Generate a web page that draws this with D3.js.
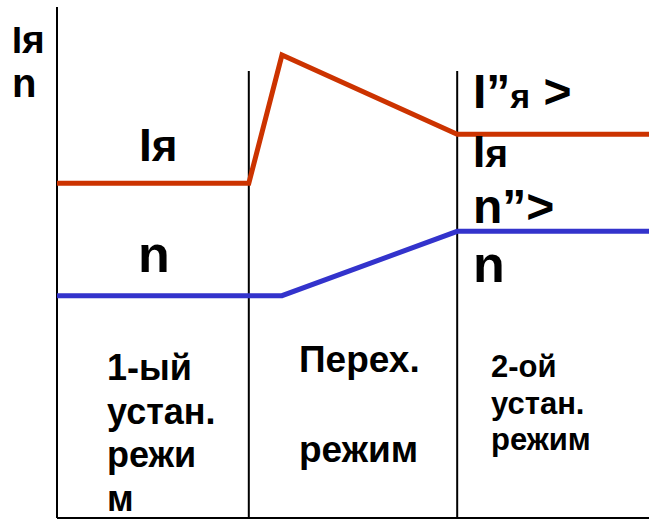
<!DOCTYPE html>
<html>
<head>
<meta charset="utf-8">
<script src="https://cdn.jsdelivr.net/npm/d3@7"></script>
<style>
  html, body { margin: 0; padding: 0; background: #fff; }
  svg text { font-family: "Liberation Sans", Arial, sans-serif; font-weight: bold; fill: #000; }
</style>
</head>
<body>
<svg id="chart" width="652" height="519"></svg>
<script>
// ---- data (abstract time 0..100, abstract level 0..100) ----
const regimeBoundaries = [32.4, 67.6];          // borders between regimes
const boundaryTop = 87.5;                         // height of the border lines
const armatureTime = [0, 32.4, 38, 67.6, 100];    // Iя (red)
const armatureCurrent = [65.5, 65.5, 90.6, 75.1, 75.1];
const speedTime = [0, 38, 67.6, 100];             // n (blue)
const speedValue = [43.5, 43.5, 56.1, 56.1];
const regimeLabels = [
  ["1-ый", "устан.", "режи", "м"],
  ["Перех.", "", "режим"],
  ["2-ой", "устан.", "режим"]
];

const svg = d3.select("#chart");
const x = d3.scaleLinear().domain([0, 100]).range([57, 649]);
const y = d3.scaleLinear().domain([0, 100]).range([518, 7]);

// axes
svg.append("line").attr("x1", x(0)).attr("x2", x(0)).attr("y1", y(0)).attr("y2", y(100))
  .attr("stroke", "#000").attr("stroke-width", 2);
svg.append("line").attr("x1", x(0)).attr("x2", x(100)).attr("y1", y(0)).attr("y2", y(0))
  .attr("stroke", "#000").attr("stroke-width", 2);

// regime borders
svg.selectAll("line.border").data(regimeBoundaries).join("line").attr("class", "border")
  .attr("x1", d => x(d)).attr("x2", d => x(d))
  .attr("y1", y(0)).attr("y2", y(boundaryTop))
  .attr("stroke", "#000").attr("stroke-width", 2);

const line = d3.line().x(d => x(d[0])).y(d => y(d[1]));
svg.append("path").datum(d3.zip(armatureTime, armatureCurrent)).attr("d", line)
  .attr("fill", "none").attr("stroke", "#CC3300").attr("stroke-width", 5)
  .attr("stroke-linejoin", "miter");
svg.append("path").datum(d3.zip(speedTime, speedValue)).attr("d", line)
  .attr("fill", "none").attr("stroke", "#3333CC").attr("stroke-width", 5);

// helper for mixed-size text
function label(xp, yp, parts) {
  const t = svg.append("text").attr("x", xp).attr("y", yp);
  parts.forEach(p => t.append("tspan").attr("font-size", p[1]).text(p[0]));
  return t;
}

// axis label
label(12, 53, [["I", 36], ["я", 39]]);
label(12, 97, [["n", 40]]);

// region 1 labels
label(139, 161, [["I", 46], ["я", 44]]);
label(138, 272, [["n", 52]]);

// region 3 labels
label(473, 108, [["I”", 48], ["я", 34], [" >", 48]]);
label(473, 167, [["I", 44], ["я", 39]]);
label(473, 223, [["n”>", 48]]);
label(473, 282, [["n", 52]]);

// regime labels
const regimeLayout = [
  {x: 107, y0: 380, dy: 43.7, size: 36},
  {x: 299, y0: 372, dy: 45, size: 37},
  {x: 491, y0: 377, dy: 36.5, size: 31}
];
regimeLabels.forEach((lines, i) => {
  const L = regimeLayout[i];
  lines.forEach((s, j) => {
    svg.append("text").attr("x", L.x).attr("y", L.y0 + j * L.dy)
      .attr("font-size", L.size).text(s);
  });
});
</script>
</body>
</html>
